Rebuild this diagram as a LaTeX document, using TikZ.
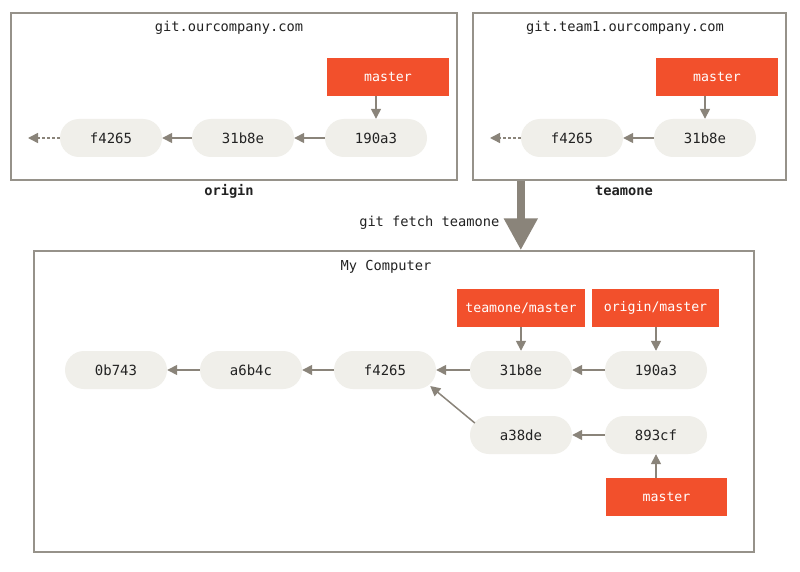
\documentclass[tikz,border=0pt]{standalone}
\usepackage{fontspec}
\setmonofont{DejaVu Sans Mono}
\usetikzlibrary{arrows.meta, calc}
\definecolor{gitred}{RGB}{242, 80, 44}
\definecolor{commitgray}{RGB}{240, 239, 234}
\definecolor{arrowgray}{RGB}{138, 132, 122}
\definecolor{framegray}{RGB}{150, 146, 138}
\definecolor{textdark}{RGB}{34, 34, 34}

\tikzset{
  commit/.style={fill=commitgray, rounded corners=19pt, minimum width=102pt, minimum height=38pt,
    inner sep=0pt, text=textdark, font=\ttfamily\fontsize{14}{16}\selectfont},
  branch/.style={fill=gitred, minimum width=122pt, minimum height=38pt, inner sep=0pt,
    text=white, font=\ttfamily\fontsize{13.2}{15}\selectfont},
  server/.style={draw=framegray, line width=1.5pt, inner sep=0pt},
  title/.style={text=textdark, font=\ttfamily\fontsize{13.7}{16}\selectfont},
  remote/.style={text=textdark, font=\ttfamily\bfseries\fontsize{13.7}{16}\selectfont},
  arr/.style={draw=arrowgray, line width=1.5pt, -{Triangle[length=10pt, width=10pt]}},
  fetcharrow/.style={draw=arrowgray, line width=8pt, -{Triangle[length=32pt, width=32pt]}}
}

\begin{document}
\begin{tikzpicture}[x=1pt, y=-1pt]
  \useasboundingbox[fill=white] (0, 0) rectangle (800, 572);

  % origin server
  \node[server, minimum width=446pt, minimum height=167pt] (obox) at (234, 96.5) {};
  \node[title] (otitle) at (229, 28) {git.ourcompany.com};
  \node[remote] (oname) at (229, 191) {origin};
  \node[commit] (of4265) at (111, 138) {f4265};
  \node[commit] (o31b8e) at (243, 138) {31b8e};
  \node[commit] (o190a3) at (376, 138) {190a3};
  \node[branch] (omaster) at (388, 77) {master};
  \coordinate (oend) at (28, 138);

  \draw[arr] (o190a3) -- (o31b8e);
  \draw[arr] (o31b8e) -- (of4265);
  \draw[arr, dash pattern=on 3pt off 2pt] (of4265) -- (oend);
  \draw[arr] (omaster.south -| o190a3) -- (o190a3);

  % teamone server
  \node[server, minimum width=313pt, minimum height=167pt] (tbox) at (629.5, 96.5) {};
  \node[title] (ttitle) at (625, 28) {git.team1.ourcompany.com};
  \node[remote] (tname) at (624, 191) {teamone};
  \node[commit] (tf4265) at (572, 138) {f4265};
  \node[commit] (t31b8e) at (705, 138) {31b8e};
  \node[branch] (tmaster) at (717, 77) {master};
  \coordinate (tend) at (490, 138);

  \draw[arr] (t31b8e) -- (tf4265);
  \draw[arr, dash pattern=on 3pt off 2pt] (tf4265) -- (tend);
  \draw[arr] (tmaster.south -| t31b8e) -- (t31b8e);

  % my computer
  \node[server, minimum width=720pt, minimum height=301pt] (mbox) at (394, 401.5) {};
  \node[title] (mtitle) at (386, 267) {My Computer};
  \node[commit] (m0b743) at (116, 370) {0b743};
  \node[commit] (ma6b4c) at (251, 370) {a6b4c};
  \node[commit] (mf4265) at (385, 370) {f4265};
  \node[commit] (m31b8e) at (521, 370) {31b8e};
  \node[commit] (m190a3) at (656, 370) {190a3};
  \node[commit] (ma38de) at (521, 435) {a38de};
  \node[commit] (m893cf) at (656, 435) {893cf};
  \node[branch, minimum width=128pt] (mteamone) at (521, 308) {teamone/master};
  \node[branch, minimum width=127pt] (morigin) at (655.5, 308) {origin/master};
  \node[branch, minimum width=121pt] (mmaster) at (666.5, 497) {master};

  \draw[arr] (ma6b4c) -- (m0b743);
  \draw[arr] (mf4265) -- (ma6b4c);
  \draw[arr] (m31b8e) -- (mf4265);
  \draw[arr] (m190a3) -- (m31b8e);
  \draw[arr] (m893cf) -- (ma38de);
  \draw[arr] ($(ma38de.west)+(5, -12)$) -- ($(mf4265.east)+(-6, 16)$);
  \draw[arr] (mteamone.south -| m31b8e) -- (m31b8e);
  \draw[arr] (morigin.south -| m190a3) -- (m190a3);
  \draw[arr] (mmaster.north -| m893cf) -- (m893cf);

  % fetch
  \coordinate (ftop) at (tbox.south -| tf4265.west);
  \draw[fetcharrow] (ftop) -- (ftop |- mbox.north);
  \node[title, anchor=east] (fetch) at (503, 223) {git fetch teamone};
\end{tikzpicture}
\end{document}
